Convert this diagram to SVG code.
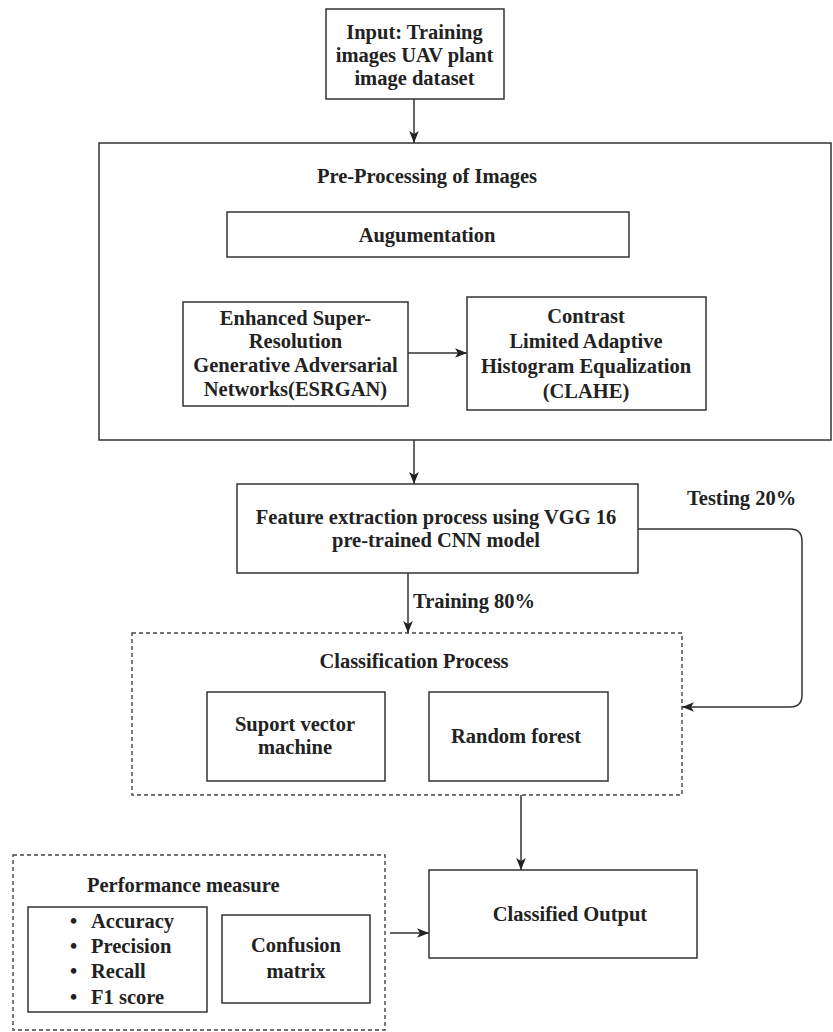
<svg xmlns="http://www.w3.org/2000/svg" width="833" height="1032" viewBox="0 0 833 1032">
<style>
.box{fill:#fff;stroke:#333;stroke-width:1.5}
.dash{fill:none;stroke:#444;stroke-width:1.4;stroke-dasharray:4 3}
.t{font-family:"Liberation Serif","Times New Roman",serif;font-weight:bold;font-size:20.5px;fill:#222}
.m{text-anchor:middle}
.c{fill:none;stroke:#333;stroke-width:1.5}
</style>
<defs>
<marker id="ah" viewBox="0 0 10 10" refX="10" refY="5" markerWidth="12" markerHeight="12" markerUnits="userSpaceOnUse" orient="auto">
<path d="M0,1 L10,5 L0,9 L2.5,5 z" fill="#222"/>
</marker>
</defs>
<rect width="833" height="1032" fill="#fff"/>

<g id="input">
<rect class="box" x="326" y="9" width="178" height="90"/>
<text class="t m" x="414.5" y="39">Input: Training</text>
<text class="t m" x="414.5" y="62">images UAV plant</text>
<text class="t m" x="414.5" y="85">image dataset</text>
</g>

<g id="preprocessing">
<rect class="box" x="99" y="143" width="732" height="297"/>
<text class="t m" x="427" y="183">Pre-Processing of Images</text>
</g>

<g id="augmentation">
<rect class="box" x="227" y="212" width="402" height="45"/>
<text class="t m" x="427" y="242">Augumentation</text>
</g>

<g id="esrgan">
<rect class="box" x="183" y="302" width="225" height="104"/>
<text class="t m" x="295.5" y="325">Enhanced Super-</text>
<text class="t m" x="295.5" y="348">Resolution</text>
<text class="t m" x="295.5" y="372">Generative Adversarial</text>
<text class="t m" x="295.5" y="396">Networks(ESRGAN)</text>
</g>

<g id="clahe">
<rect class="box" x="467" y="297" width="239" height="113"/>
<text class="t m" x="586" y="323">Contrast</text>
<text class="t m" x="586" y="348">Limited Adaptive</text>
<text class="t m" x="586" y="373">Histogram Equalization</text>
<text class="t m" x="586" y="398">(CLAHE)</text>
</g>

<g id="feature">
<rect class="box" x="237" y="484" width="401" height="89"/>
<text class="t m" x="436" y="524">Feature extraction process using VGG 16</text>
<text class="t m" x="436" y="547">pre-trained CNN model</text>
</g>

<g id="classification">
<rect class="dash" x="132" y="633" width="550" height="162"/>
<text class="t m" x="414" y="668">Classification Process</text>
</g>

<g id="svm">
<rect class="box" x="207" y="692" width="178" height="89"/>
<text class="t m" x="295" y="731">Suport vector</text>
<text class="t m" x="295" y="754">machine</text>
</g>

<g id="rf">
<rect class="box" x="429" y="692" width="179" height="89"/>
<text class="t m" x="516" y="743">Random forest</text>
</g>

<g id="output">
<rect class="box" x="429" y="870" width="268" height="88"/>
<text class="t m" x="570" y="921">Classified Output</text>
</g>

<g id="performance">
<rect class="dash" x="13" y="855" width="372" height="175"/>
<text class="t" x="87" y="892">Performance measure</text>
</g>

<g id="metrics">
<rect class="box" x="28" y="907" width="179" height="105"/>
<text class="t" x="70" y="928">•</text><text class="t" x="91" y="928">Accuracy</text>
<text class="t" x="70" y="953">•</text><text class="t" x="91" y="953">Precision</text>
<text class="t" x="70" y="978">•</text><text class="t" x="91" y="978">Recall</text>
<text class="t" x="70" y="1004">•</text><text class="t" x="91" y="1004">F1 score</text>
</g>

<g id="confusion">
<rect class="box" x="222" y="915" width="148" height="88"/>
<text class="t m" x="296" y="952">Confusion</text>
<text class="t m" x="296" y="978">matrix</text>
</g>

<g id="connectors">
<path class="c" d="M414,99 V143" marker-end="url(#ah)"/>
<path class="c" d="M408,353 H467" marker-end="url(#ah)"/>
<path class="c" d="M414,440 V484" marker-end="url(#ah)"/>
<path class="c" d="M408,573 V633" marker-end="url(#ah)"/>
<path class="c" d="M638,529 H790 Q802,529 802,541 V695 Q802,707 790,707 H682" marker-end="url(#ah)"/>
<path class="c" d="M521,795 V870" marker-end="url(#ah)"/>
<path class="c" d="M390,933 H429" marker-end="url(#ah)"/>
<text class="t" x="413" y="608">Training 80%</text>
<text class="t" x="687" y="505">Testing 20%</text>
</g>
</svg>
